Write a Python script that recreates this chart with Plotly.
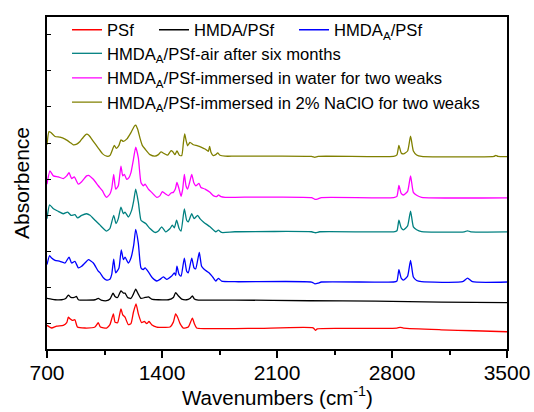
import plotly.graph_objects as go

# ---------------- data (wavenumber in cm-1, absorbance in a.u., stacked) ----------------
names = [
    "PSf",
    "HMDA/PSf",
    "HMDA<sub>A</sub>/PSf",
    "HMDA<sub>A</sub>/PSf-air after six months",
    "HMDA<sub>A</sub>/PSf-immersed in water for two weaks",
    "HMDA<sub>A</sub>/PSf-immersed in 2% NaClO for two weaks",
]
colors = ["#FF0000", "#000000", "#0000FF", "#008080", "#FF00FF", "#808000"]

psf_x = [700, 728, 759, 799, 820, 830, 840, 854, 870, 885, 931, 992, 1012, 1025, 1063, 1083, 1104,
         1114, 1130, 1150, 1161, 1175, 1195, 1211, 1226, 1242, 1256, 1276, 1292, 1307, 1321, 1337,
         1368, 1408, 1449, 1469, 1483, 1495, 1510, 1530, 1560, 1585, 1597, 1611, 1662, 1844,
         2000, 2320, 2335, 2345, 2500, 2830, 2850, 2870, 3100, 3300, 3500]
psf_y = [0.240, 0.213, 0.233, 0.240, 0.267, 0.323, 0.307, 0.290, 0.297, 0.223, 0.213, 0.223, 0.267,
         0.223, 0.213, 0.247, 0.357, 0.273, 0.267, 0.407, 0.347, 0.323, 0.247, 0.257, 0.373, 0.457,
         0.357, 0.267, 0.280, 0.257, 0.280, 0.247, 0.223, 0.220, 0.223, 0.273, 0.357, 0.323, 0.257,
         0.213, 0.223, 0.313, 0.257, 0.213, 0.207, 0.207,
         0.210, 0.215, 0.190, 0.205, 0.210, 0.212, 0.220, 0.212, 0.195, 0.185, 0.175]

hmda_x = [700, 749, 789, 814, 830, 846, 866, 879, 891, 992, 1012, 1029, 1063, 1083, 1102, 1114, 1130,
          1150, 1165, 1175, 1191, 1211, 1226, 1240, 1256, 1272, 1297, 1317, 1337, 1378, 1439, 1469,
          1483, 1499, 1520, 1550, 1570, 1585, 1597, 1621, 1844,
          2300, 2700, 3100, 3500]
hmda_y = [0.513, 0.500, 0.500, 0.513, 0.547, 0.523, 0.523, 0.533, 0.500, 0.500, 0.513, 0.497, 0.490,
          0.507, 0.567, 0.533, 0.523, 0.590, 0.567, 0.567, 0.523, 0.513, 0.557, 0.607, 0.557, 0.513,
          0.523, 0.530, 0.507, 0.500, 0.500, 0.523, 0.573, 0.540, 0.507, 0.500, 0.513, 0.540, 0.507,
          0.497, 0.497,
          0.490, 0.485, 0.475, 0.470]

hmdaa_x = [700, 716, 728, 749, 779, 810, 834, 850, 870, 891, 911, 941, 952, 982, 1012, 1023, 1043,
           1063, 1083, 1094, 1106, 1118, 1138, 1152, 1165, 1175, 1195, 1211, 1228, 1240, 1256, 1272,
           1286, 1297, 1321, 1341, 1368, 1388, 1408, 1428, 1459, 1475, 1483, 1491, 1504, 1516, 1536,
           1550, 1560, 1581, 1595, 1605, 1627, 1641, 1658, 1686, 1712, 1727, 1743, 1763, 1844,
           2310, 2330, 2350, 2370, 2810, 2830, 2842, 2856, 2870, 2895, 2913, 2930, 2950, 2980,
           3230, 3260, 3290, 3500]
hmdaa_y = [0.857, 0.947, 0.923, 0.900, 0.890, 0.873, 0.933, 0.873, 0.890, 0.823, 0.840, 0.890, 0.907,
           0.873, 0.790, 0.773, 0.723, 0.700, 0.707, 0.757, 0.913, 0.773, 0.823, 1.007, 0.907, 0.933,
           0.873, 0.923, 1.057, 1.213, 1.073, 0.823, 0.807, 0.823, 0.773, 0.723, 0.690, 0.707, 0.733,
           0.707, 0.740, 0.773, 0.747, 0.840, 0.757, 0.740, 0.923, 0.790, 0.773, 0.923, 0.823, 0.813,
           0.980, 0.840, 0.807, 0.773, 0.723, 0.690, 0.717, 0.690, 0.683,
           0.680, 0.662, 0.668, 0.680, 0.680, 0.690, 0.805, 0.720, 0.700, 0.740, 0.900, 0.730,
           0.695, 0.683, 0.683, 0.720, 0.683, 0.680]

air_x = [700, 716, 739, 769, 799, 826, 846, 870, 887, 911, 941, 962, 992, 1023, 1043, 1063, 1083,
         1106, 1120, 1134, 1150, 1165, 1175, 1195, 1215, 1228, 1240, 1256, 1272, 1286, 1301, 1327,
         1357, 1378, 1398, 1422, 1449, 1463, 1475, 1489, 1504, 1516, 1536, 1550, 1560, 1581, 1595,
         1617, 1631, 1652, 1692, 1727, 1743, 1763, 1844,
         2310, 2335, 2360, 2810, 2830, 2842, 2856, 2870, 2895, 2913, 2930, 2950, 2980,
         3240, 3260, 3280, 3500]
air_y = [1.323, 1.463, 1.423, 1.397, 1.373, 1.390, 1.357, 1.363, 1.330, 1.357, 1.373, 1.357, 1.307,
         1.257, 1.223, 1.197, 1.223, 1.357, 1.273, 1.323, 1.440, 1.373, 1.390, 1.340, 1.407, 1.507,
         1.623, 1.490, 1.307, 1.290, 1.273, 1.223, 1.183, 1.197, 1.240, 1.190, 1.223, 1.257, 1.230,
         1.307, 1.223, 1.197, 1.423, 1.307, 1.290, 1.373, 1.323, 1.357, 1.323, 1.290, 1.240, 1.190,
         1.207, 1.183, 1.190,
         1.190, 1.180, 1.190, 1.190, 1.200, 1.307, 1.230, 1.210, 1.250, 1.400, 1.240, 1.210, 1.192,
         1.190, 1.200, 1.190, 1.188]

water_x = [700, 718, 739, 769, 799, 820, 834, 850, 866, 891, 911, 941, 952, 982, 1012, 1037, 1053,
           1063, 1083, 1094, 1106, 1118, 1134, 1150, 1161, 1171, 1185, 1199, 1211, 1226, 1240, 1256,
           1272, 1286, 1297, 1317, 1337, 1368, 1388, 1402, 1422, 1439, 1455, 1469, 1481, 1491, 1504,
           1516, 1526, 1536, 1546, 1556, 1568, 1581, 1593, 1605, 1625, 1637, 1662, 1692, 1712, 1733,
           1743, 1759, 1784, 1844,
           2310, 2330, 2350, 2370, 2810, 2830, 2842, 2856, 2870, 2895, 2913, 2930, 2950, 2980, 3500]
water_y = [1.673, 1.807, 1.757, 1.747, 1.730, 1.757, 1.790, 1.730, 1.747, 1.673, 1.697, 1.757, 1.763,
           1.723, 1.657, 1.607, 1.557, 1.540, 1.573, 1.630, 1.773, 1.623, 1.657, 1.857, 1.757, 1.773,
           1.723, 1.740, 1.790, 1.923, 2.050, 1.940, 1.690, 1.657, 1.673, 1.623, 1.590, 1.540, 1.557,
           1.597, 1.573, 1.557, 1.583, 1.590, 1.623, 1.690, 1.623, 1.550, 1.623, 1.773, 1.657, 1.623,
           1.690, 1.773, 1.690, 1.657, 1.680, 1.640, 1.623, 1.590, 1.557, 1.547, 1.563, 1.547, 1.540,
           1.540,
           1.537, 1.520, 1.525, 1.537, 1.537, 1.550, 1.660, 1.580, 1.563, 1.600, 1.757, 1.590, 1.560,
           1.540, 1.535]

naclo_x = [700, 712, 724, 749, 779, 810, 840, 860, 881, 901, 921, 941, 956, 982, 1012, 1037, 1063,
           1083, 1100, 1110, 1122, 1138, 1150, 1165, 1185, 1211, 1232, 1240, 1252, 1266, 1280, 1297,
           1327, 1357, 1378, 1394, 1414, 1434, 1455, 1467, 1479, 1491, 1506, 1520, 1530, 1538, 1548,
           1556, 1570, 1591, 1617, 1641, 1662, 1682, 1690, 1698, 1712, 1727, 1739, 1753, 1784, 1844,
           2310, 2330, 2350, 2810, 2830, 2842, 2856, 2870, 2895, 2913, 2930, 2950, 2980,
           3420, 3432, 3445, 3500]
naclo_y = [2.073, 2.207, 2.197, 2.157, 2.150, 2.130, 2.097, 2.073, 2.080, 2.107, 2.150, 2.180, 2.167,
           2.107, 2.040, 1.983, 1.957, 1.963, 2.030, 2.067, 2.037, 2.067, 2.123, 2.107, 2.130, 2.197,
           2.263, 2.273, 2.230, 2.140, 2.067, 2.030, 1.973, 1.957, 1.973, 2.000, 1.983, 1.967, 2.013,
           2.000, 1.973, 2.010, 1.967, 1.963, 2.090, 2.183, 2.107, 2.063, 2.097, 2.073, 2.063, 2.047,
           2.030, 2.007, 2.057, 1.997, 1.963, 1.973, 1.990, 1.967, 1.957, 1.957,
           1.955, 1.945, 1.955, 1.955, 1.970, 2.067, 1.990, 1.980, 2.010, 2.160, 2.010, 1.970, 1.955,
           1.955, 1.965, 1.955, 1.953]

xs = [psf_x, hmda_x, hmdaa_x, air_x, water_x, naclo_x]
ys = [psf_y, hmda_y, hmdaa_y, air_y, water_y, naclo_y]

x_ticks = [700, 1400, 2100, 2800, 3500]
x_minor = [1050, 1750, 2450, 3150]

# legend placement: the first three entries share the top row
legend_ids = ["legend", "legend5", "legend6", "legend2", "legend3", "legend4"]
legend_pos = {
    "legend": (0.0435, 0.961),
    "legend5": (0.2326, 0.961),
    "legend6": (0.537, 0.961),
    "legend2": (0.0435, 0.890),
    "legend3": (0.0435, 0.816),
    "legend4": (0.0435, 0.743),
}

FONT = "Arial, Liberation Sans, sans-serif"

# ---------------- figure ----------------
fig = go.Figure()
for name, color, x, y, lg in zip(names, colors, xs, ys, legend_ids):
    fig.add_trace(go.Scatter(
        x=x, y=y, mode="lines", name=name, legend=lg,
        line=dict(color=color, width=1.3, shape="spline", smoothing=0.5),
    ))

legends = {}
for lg, (lx, ly) in legend_pos.items():
    legends[lg] = dict(
        orientation="h", x=lx, y=ly, xanchor="left", yanchor="middle",
        font=dict(size=16.6, family=FONT, color="black"),
        bgcolor="rgba(0,0,0,0)", borderwidth=0,
    )

fig.update_layout(
    width=534, height=412,
    margin=dict(l=47, r=27, t=12, b=63),
    paper_bgcolor="white", plot_bgcolor="white",
    font=dict(family=FONT, color="black"),
    showlegend=True,
    annotations=[dict(
        text="Wavenumbers (cm<sup>-1</sup>)", xref="paper", yref="paper",
        x=0.5, y=-0.143, xanchor="center", yanchor="middle", showarrow=False,
        font=dict(size=20.5, family=FONT, color="black"),
    )],
    **legends,
)

fig.update_xaxes(
    range=[700, 3500], tickvals=x_ticks, ticktext=[str(v) for v in x_ticks],
    showgrid=False, zeroline=False,
    showline=True, linecolor="black", linewidth=1.5, mirror=True,
    ticks="outside", ticklen=7, tickwidth=1.5, tickcolor="black",
    tickfont=dict(size=21), ticklabelstandoff=-3,
    minor=dict(ticks="outside", ticklen=4, tickwidth=1.5, tickcolor="black",
               tickvals=x_minor),
    automargin=False,
)
fig.update_yaxes(
    range=[0, 3.37], showticklabels=False,
    tick0=0.257, dtick=0.3667,
    showgrid=False, zeroline=False,
    showline=True, linecolor="black", linewidth=1.5, mirror=True,
    ticks="inside", ticklen=4, tickwidth=1.2, tickcolor="black",
    title=dict(text="Absorbence", font=dict(size=21), standoff=10),
    automargin=False,
)

fig.write_html("out.html")
